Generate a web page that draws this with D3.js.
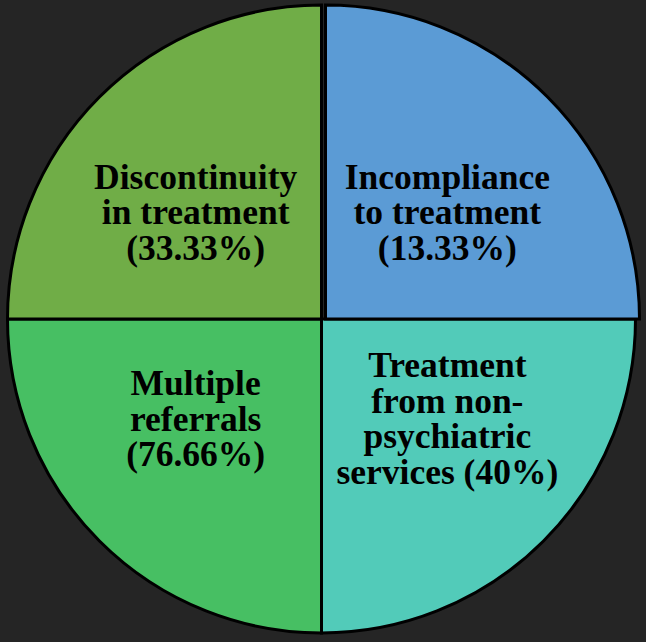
<!DOCTYPE html>
<html>
<head>
<meta charset="utf-8">
<script src="https://cdn.jsdelivr.net/npm/d3@7"></script>
<style>
  html, body { margin: 0; padding: 0; background: #252525; }
  svg { display: block; }
</style>
</head>
<body>
<svg id="chart" width="646" height="642"></svg>
<script>
// ---- data ----
const categories = ["Incompliance to treatment", "Treatment from non-psychiatric services", "Multiple referrals", "Discontinuity in treatment"];
const percentLabels = ["13.33%", "40%", "76.66%", "33.33%"];
const sliceShares = [25, 25, 25, 25];
const labelLines = [
  ["Incompliance", "to treatment", "(13.33%)"],
  ["Treatment", "from non-", "psychiatric", "services (40%)"],
  ["Multiple", "referrals", "(76.66%)"],
  ["Discontinuity", "in treatment", "(33.33%)"]
];
const colors = ["#5B9BD5", "#52CBB9", "#47BF63", "#70AD47"];

// ---- layout ----
const W = 646, H = 642;
const cx = 321.5, cy = 319, R = 314;
const svg = d3.select("#chart");
svg.append("rect").attr("width", W).attr("height", H).attr("fill", "#252525");

const pie = d3.pie().sort(null).value(d => d.v);
const data = pie(categories.map((c, i) => ({ c, v: sliceShares[i], i })));
const arc = d3.arc().innerRadius(0).outerRadius(R);

const g = svg.append("g").attr("transform", `translate(${cx},${cy})`);
const offsets = [[4, 0], [0, 0], [0, 0], [0, 0]];

// draw non-exploded first, exploded slice last
const order = [1, 2, 3, 0];
order.forEach(k => {
  const d = data[k];
  g.append("path")
    .attr("d", arc(d))
    .attr("transform", `translate(${offsets[k][0]},${offsets[k][1]})`)
    .attr("fill", colors[k])
    .attr("stroke", "#000")
    .attr("stroke-width", 3)
    .attr("stroke-linejoin", "miter");
});

// labels
const kx = 178, ky = 146, lh = 35.5;
data.forEach((d, k) => {
  const a = (d.startAngle + d.endAngle) / 2;
  const x = Math.sin(a) * kx;
  const y = -Math.cos(a) * ky - 3.5;
  const lines = labelLines[k];
  const t = g.append("text")
    .attr("text-anchor", "middle")
    .attr("font-family", "'Liberation Serif', 'Times New Roman', serif")
    .attr("font-weight", "bold")
    .attr("font-size", 35.5)
    .attr("fill", "#000");
  lines.forEach((ln, j) => {
    t.append("tspan")
      .attr("x", x)
      .attr("y", y + (j - (lines.length - 1) / 2) * lh + 12)
      .text(ln);
  });
});
</script>
</body>
</html>
